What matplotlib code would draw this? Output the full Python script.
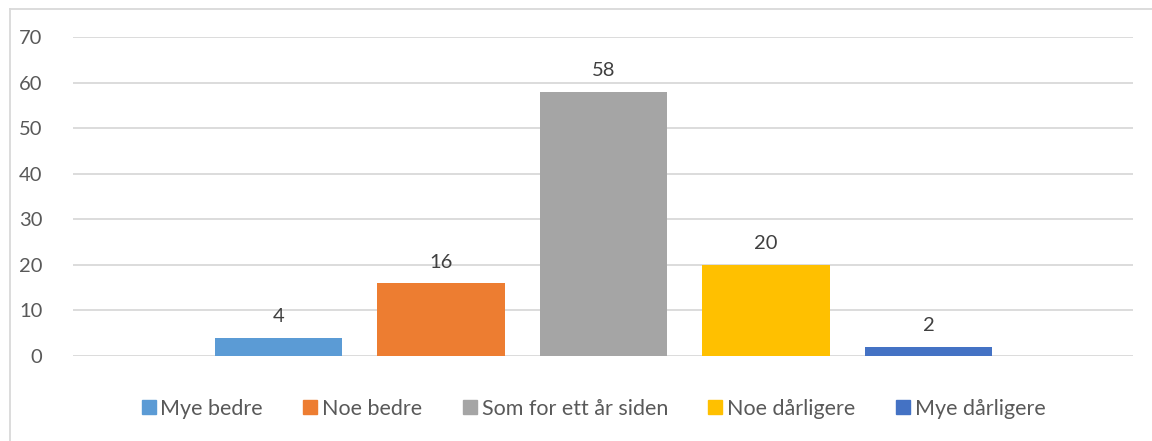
import matplotlib.pyplot as plt
from matplotlib.lines import Line2D

categories = ["Mye bedre", "Noe bedre", "Som for ett år siden", "Noe dårligere", "Mye dårligere"]
values = [4, 16, 58, 20, 2]
colors = ["#5B9BD5", "#ED7D31", "#A5A5A5", "#FFC000", "#4472C4"]
yticks = [0, 10, 20, 30, 40, 50, 60, 70]

plt.rcParams['font.family'] = ['Lato', 'DejaVu Sans']

fig = plt.figure(figsize=(11.52, 4.41), dpi=100)
ax = fig.add_axes([73 / 1152, 85 / 441, 1060 / 1152, 319 / 441])

x = list(range(len(values)))
bars = ax.bar(x, values, width=128 / 163, color=colors, zorder=3)
for b, v in zip(bars, values):
    ax.annotate(str(v), (b.get_x() + b.get_width() / 2, v), xytext=(0, 9),
                textcoords="offset points", ha="center", va="bottom",
                fontsize=14.5, color="#404040")

ax.set_xlim(-1.264, 5.258)
ax.set_ylim(0, 70)
ax.set_yticks(yticks)
ax.set_xticks([])
ax.grid(axis="y", color="#D9D9D9", linewidth=1.3, zorder=0)
for s in ax.spines.values():
    s.set_visible(False)
ax.tick_params(axis="y", length=0, pad=22, labelsize=14.5, labelcolor="#595959")

handles = [Line2D([], [], marker="s", linestyle="none", markersize=10,
                  markerfacecolor=c, markeredgecolor=c) for c in colors]
fig.legend(handles, categories, loc="center", bbox_to_anchor=(0.514, 0.073),
           ncol=5, frameon=False, fontsize=15.5, labelcolor="#595959",
           handletextpad=0.1, columnspacing=1.75, handlelength=0.9)

# light border on the left and top edge (cropped chart frame)
fig.add_artist(Line2D([10 / 1152, 10 / 1152], [0, 1 - 9 / 441], color="#D9D9D9", linewidth=1.3))
fig.add_artist(Line2D([10 / 1152, 1], [1 - 9 / 441, 1 - 9 / 441], color="#D9D9D9", linewidth=1.3))

fig.savefig("out.png", dpi=100)
